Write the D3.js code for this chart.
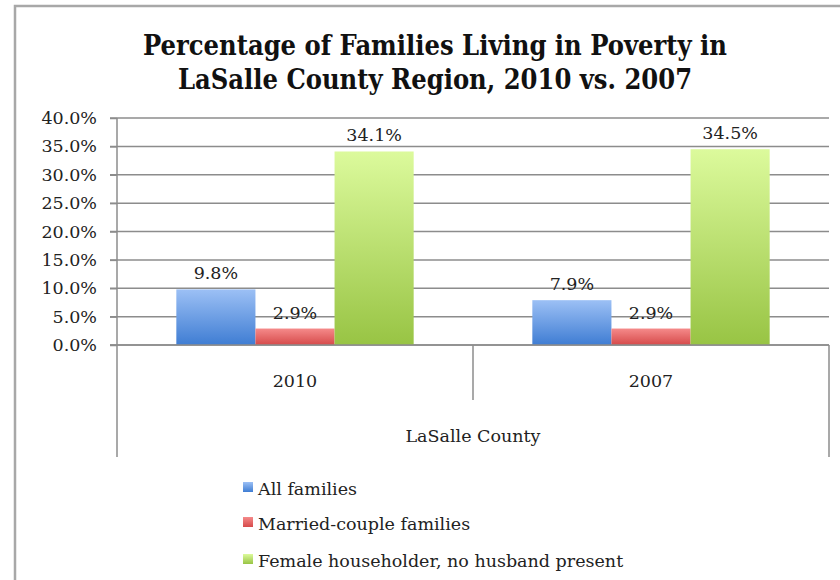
<!DOCTYPE html>
<html>
<head>
<meta charset="utf-8">
<script src="https://cdn.jsdelivr.net/npm/d3@7"></script>
<style>
  html, body { margin: 0; padding: 0; background: #fff; }
  svg { display: block; }
</style>
</head>
<body>
<svg id="chart" width="840" height="580"></svg>
<script>
// Poverty rates by family type, LaSalle County
const years = ["2010", "2007"];
const seriesNames = ["All families", "Married-couple families", "Female householder, no husband present"];
const allFamilies = [9.8, 7.9];
const marriedCouple = [2.9, 2.9];
const femaleHouseholder = [34.1, 34.5];
const yTicks = [0, 5, 10, 15, 20, 25, 30, 35, 40];
const titleLines = ["Percentage of Families Living in Poverty in", "LaSalle County Region, 2010 vs. 2007"];
const groupLabel = "LaSalle County";

const seriesValues = [allFamilies, marriedCouple, femaleHouseholder];
const colors = [
  { top: "#9cc0f5", bottom: "#3f7dd3" },
  { top: "#f58a8a", bottom: "#d64a4a" },
  { top: "#dcfa9c", bottom: "#98c444" }
];

const serif = "'DejaVu Serif', 'Liberation Serif', serif";
const titleFont = "'DejaVu Serif Condensed', 'DejaVu Serif', serif";
const bodySize = 17.5;
const svg = d3.select("#chart");

// gradients for bars and legend swatches
const defs = svg.append("defs");
colors.forEach((c, i) => {
  const g = defs.append("linearGradient")
    .attr("id", "grad" + i).attr("x1", 0).attr("y1", 0).attr("x2", 0).attr("y2", 1);
  g.append("stop").attr("offset", "0%").attr("stop-color", c.top);
  g.append("stop").attr("offset", "100%").attr("stop-color", c.bottom);
});

// outer frame
svg.append("rect")
  .attr("x", 15).attr("y", 6).attr("width", 840).attr("height", 600)
  .attr("fill", "#fff").attr("stroke", "#a8a8a8").attr("stroke-width", 2.5);

// title
const title = svg.append("text")
  .attr("text-anchor", "middle")
  .attr("font-family", titleFont).attr("font-weight", "bold")
  .style("font-stretch", "condensed")
  .attr("font-size", 27).attr("fill", "#111");
titleLines.forEach((t, i) => {
  title.append("tspan").attr("x", 435).attr("y", 55 + i * 34).text(t);
});

const plotLeft = 117, plotRight = 829, plotTop = 118, plotBottom = 345;

const x0 = d3.scaleBand().domain(years).range([plotLeft, plotRight]).padding(0);
const x1 = d3.scaleBand().domain(d3.range(seriesNames.length))
  .range([0, x0.bandwidth()]).paddingInner(0).paddingOuter(0.75);
const y = d3.scaleLinear().domain([0, 40]).range([plotBottom, plotTop]);

const gridColor = "#8c8c8c";

// gridlines
svg.append("g").selectAll("line").data(yTicks).join("line")
  .attr("x1", plotLeft - 7).attr("x2", plotRight)
  .attr("y1", d => y(d)).attr("y2", d => y(d))
  .attr("stroke", gridColor).attr("stroke-width", 1.5);

// y axis
const yAxis = svg.append("g")
  .attr("transform", `translate(${plotLeft},0)`)
  .call(d3.axisLeft(y).tickValues(yTicks).tickFormat(d => d3.format(".1f")(d) + "%").tickSize(7).tickPadding(13));
yAxis.select(".domain").remove();
yAxis.selectAll(".tick line").attr("stroke", gridColor).attr("stroke-width", 1.5);
yAxis.selectAll("text").attr("font-family", serif).attr("font-size", bodySize).attr("fill", "#222");

// vertical axis line and category boxes
svg.append("line").attr("x1", plotLeft).attr("x2", plotLeft).attr("y1", plotTop).attr("y2", 457)
  .attr("stroke", gridColor).attr("stroke-width", 1.5);
svg.append("line").attr("x1", plotRight).attr("x2", plotRight).attr("y1", plotBottom).attr("y2", 457)
  .attr("stroke", gridColor).attr("stroke-width", 1.5);
svg.append("line").attr("x1", x0(years[1])).attr("x2", x0(years[1])).attr("y1", plotBottom).attr("y2", 400)
  .attr("stroke", gridColor).attr("stroke-width", 1.5);

// bars
const groups = svg.append("g").selectAll("g").data(years).join("g")
  .attr("transform", d => `translate(${x0(d)},0)`);

groups.each(function(year, yi) {
  const g = d3.select(this);
  seriesValues.forEach((vals, si) => {
    const v = vals[yi];
    g.append("rect")
      .attr("x", x1(si)).attr("width", x1.bandwidth())
      .attr("y", y(v)).attr("height", y(0) - y(v))
      .attr("fill", `url(#grad${si})`);
    g.append("text")
      .attr("x", x1(si) + x1.bandwidth() / 2)
      .attr("y", y(v) - 10)
      .attr("text-anchor", "middle")
      .attr("font-family", serif).attr("font-size", bodySize).attr("fill", "#222")
      .text(d3.format(".1f")(v) + "%");
  });
});

// zero line drawn over the bar bases
svg.append("line").attr("x1", plotLeft - 7).attr("x2", plotRight).attr("y1", y(0)).attr("y2", y(0))
  .attr("stroke", gridColor).attr("stroke-width", 1.5);

// category labels
svg.append("g").selectAll("text").data(years).join("text")
  .attr("x", d => x0(d) + x0.bandwidth() / 2).attr("y", 387)
  .attr("text-anchor", "middle")
  .attr("font-family", serif).attr("font-size", bodySize).attr("fill", "#222")
  .text(d => d);

svg.append("text")
  .attr("x", (plotLeft + plotRight) / 2).attr("y", 442)
  .attr("text-anchor", "middle")
  .attr("font-family", serif).attr("font-size", bodySize).attr("fill", "#222")
  .text(groupLabel);

// legend
const legend = svg.append("g").selectAll("g").data(seriesNames).join("g")
  .attr("transform", (d, i) => `translate(243, ${[489, 524, 561][i]})`);
legend.append("rect")
  .attr("x", 0).attr("y", -7).attr("width", 10).attr("height", 10)
  .attr("fill", (d, i) => `url(#grad${i})`);
legend.append("text")
  .attr("x", 15).attr("y", 6)
  .attr("font-family", serif).attr("font-size", bodySize).attr("fill", "#222")
  .text(d => d);
</script>
</body>
</html>
